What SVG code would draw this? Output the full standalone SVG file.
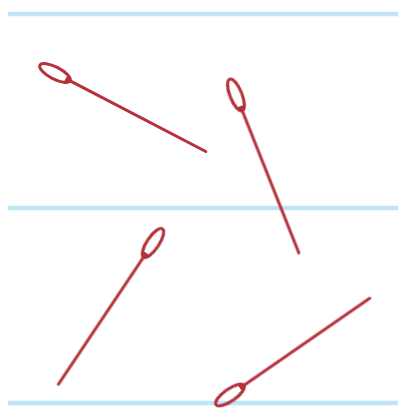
<svg xmlns="http://www.w3.org/2000/svg" width="398" height="413" viewBox="0 0 398 413">
<style>
.line{stroke:#bfe5f7;stroke-width:4.5;fill:none}
.eye{fill:none;stroke:#b5303d;stroke-width:3}
.shaft{fill:none;stroke:#b5303d;stroke-width:3;stroke-linecap:round}
</style>
<defs>
<filter id="soft" x="-10%" y="-10%" width="120%" height="120%"><feGaussianBlur stdDeviation="0.6"/></filter>
<g id="needle">
<ellipse class="eye" cx="0" cy="0" rx="17" ry="6"/>
<path class="shaft" d="M16 0 L170 0"/>
<path d="M12 -3 L22 0 L12 3 Z" fill="#b5303d"/>
</g>
</defs>
<rect width="398" height="413" fill="#ffffff"/>
<g id="lines" filter="url(#soft)">
<line class="line" x1="8" y1="14" x2="398" y2="14"/>
<line class="line" x1="8" y1="208" x2="398" y2="208"/>
<line class="line" x1="8" y1="403" x2="398" y2="403"/>
</g>
<g filter="url(#soft)">
<g id="needle1"><use href="#needle" transform="translate(55,73) rotate(27.5)"/></g>
<g id="needle2"><use href="#needle" transform="translate(236,95) rotate(68.3)"/></g>
<g id="needle3"><use href="#needle" transform="translate(153,243) rotate(123.8)"/></g>
<g id="needle4"><use href="#needle" transform="translate(230,395) rotate(-34.7)"/></g>
</g>
</svg>
